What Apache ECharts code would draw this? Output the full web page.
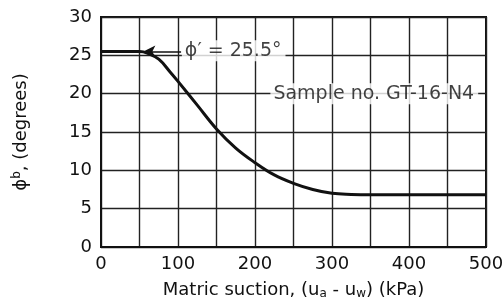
<!DOCTYPE html>
<html><head><meta charset="utf-8">
<script src="https://cdn.jsdelivr.net/npm/echarts@6/dist/echarts.min.js"></script>
<style>html,body{margin:0;padding:0;background:#fff}#c{width:503px;height:302px}</style>
</head><body><div id="c"></div>
<script>
var suction = [0, 50, 60, 75, 90, 100, 125, 150, 175, 200, 225, 250, 275, 300, 325, 350, 500];
var phiB = [25.5, 25.5, 25.3, 24.5, 22.8, 21.6, 18.5, 15.4, 12.9, 11.0, 9.4, 8.3, 7.5, 7.0, 6.85, 6.8, 6.8];
var xTicks = [0, 100, 200, 300, 400, 500];
var yTicks = [0, 5, 10, 15, 20, 25, 30];
var phiPrime = 25.5;
var arrowFrom = 104, arrowTo = 55;
var noteCoords = [[105, 25.6], [220, 20.0]];
var noteTexts = ['\u03D5\u2032 = 25.5\u00B0', 'Sample no. GT-16-N4'];

var FONT = 'DejaVu Sans';
var chart = echarts.init(document.getElementById('c'));
chart.setOption({
  animation: false,
  backgroundColor: '#fff',
  grid: {left: 101, right: 17, top: 17, bottom: 55, outerBoundsMode: 'none', containLabel: false,
         show: true, borderColor: '#111', borderWidth: 2},
  xAxis: {
    type: 'value', min: 0, max: 500, interval: 50,
    axisLine: {show: true, lineStyle: {color: '#111', width: 2}},
    axisTick: {show: false},
    splitLine: {show: true, lineStyle: {color: '#222', width: 1.4}},
    axisLabel: {
      color: '#111', fontFamily: FONT, fontSize: 18, margin: 8,
      formatter: function (v) { return xTicks.indexOf(v) >= 0 ? String(v) : ''; }
    },
    name: 'Matric suction, (u{sub|a} - u{sub|w}) (kPa)',
    nameLocation: 'middle', nameGap: 33,
    nameTextStyle: {
      color: '#111', fontFamily: FONT, fontSize: 18, lineHeight: 20,
      rich: {sub: {fontFamily: FONT, fontSize: 12, color: '#111', verticalAlign: 'bottom', lineHeight: 20}}
    }
  },
  yAxis: {
    type: 'value', min: 0, max: 30, interval: 5,
    axisLine: {show: true, lineStyle: {color: '#111', width: 2}},
    axisTick: {show: false},
    splitLine: {show: true, lineStyle: {color: '#222', width: 1.4}},
    axisLabel: {
      color: '#111', fontFamily: FONT, fontSize: 18, margin: 9,
      formatter: function (v) { return yTicks.indexOf(v) >= 0 ? String(v) : ''; }
    },
    name: '\u03D5{sup|b}, (degrees)',
    nameLocation: 'middle', nameGap: 70, nameRotate: 90,
    nameTextStyle: {
      color: '#111', fontFamily: FONT, fontSize: 18, lineHeight: 20,
      rich: {sup: {fontFamily: FONT, fontSize: 12, color: '#111', verticalAlign: 'top', lineHeight: 20}}
    }
  },
  series: [
    {
      type: 'line', data: suction.map(function (x, i) { return [x, phiB[i]]; }),
      smooth: 0.4, showSymbol: false, symbol: 'none',
      lineStyle: {color: '#111', width: 3}, z: 5,
      markLine: {
        silent: true, symbol: ['none', 'arrow'], symbolSize: [9, 12],
        label: {show: false},
        lineStyle: {color: '#111', width: 1.6, type: 'solid'},
        data: [[{coord: [arrowFrom, phiPrime]}, {coord: [arrowTo, phiPrime]}]]
      }
    },
    {
      type: 'scatter', symbolSize: 0, z: 6,
      data: noteCoords.map(function (c, i) { return {value: c, name: noteTexts[i]}; }),
      label: {
        show: true, position: 'right', distance: 0,
        formatter: function (p) { return p.name; },
        color: '#111', fontFamily: FONT, fontSize: 19,
        backgroundColor: '#fff', padding: [1, 4, 1, 3]
      }
    }
  ]
});
</script></body></html>
